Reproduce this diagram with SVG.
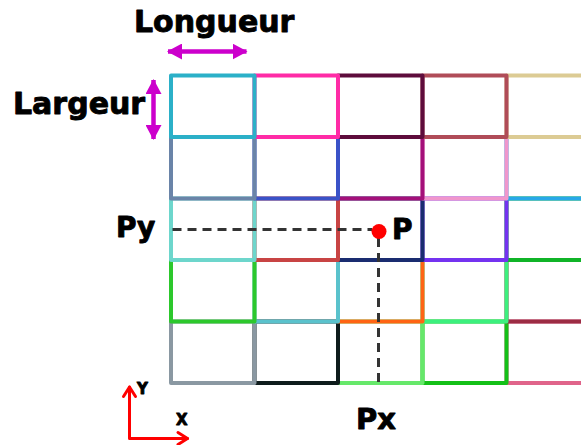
<svg xmlns="http://www.w3.org/2000/svg" width="581" height="445" viewBox="0 0 581 445">
<defs>
<style>
.cell{fill:none;stroke-width:4;stroke-linejoin:round}
.lbl{font-family:"DejaVu Sans","Liberation Sans",sans-serif;font-weight:bold;fill:#000;stroke:#000;stroke-width:0.9;stroke-linejoin:round}
.dash{stroke:#333;stroke-width:3;stroke-dasharray:9 6;fill:none}
.mag{stroke:#cc00cc;stroke-width:4.5;fill:none}
.axis{stroke:#ff0000;stroke-width:3;fill:none;stroke-linecap:round;stroke-linejoin:round}
</style>
<marker id="mh" viewBox="0 0 15 16" refX="14" refY="8" markerWidth="15" markerHeight="16" markerUnits="userSpaceOnUse" orient="auto-start-reverse">
<path d="M0,0 L15,8 L0,16 Z" fill="#cc00cc"/>
</marker>
</defs>
<rect width="581" height="445" fill="#fff"/>
<g id="grid">
<g id="cell-4-4"><rect class="cell" x="506.5" y="321.5" width="84" height="61.5" stroke="#e0648a"/></g>
<g id="cell-4-3"><rect class="cell" x="422.5" y="321.5" width="84" height="61.5" stroke="#14c018"/></g>
<g id="cell-4-2"><rect class="cell" x="338" y="321.5" width="84.5" height="61.5" stroke="#66e86a"/></g>
<g id="cell-4-1"><rect class="cell" x="254.5" y="321.5" width="83.5" height="61.5" stroke="#0e1c1c"/></g>
<g id="cell-4-0"><rect class="cell" x="171" y="321.5" width="83.5" height="61.5" stroke="#8a98a2"/></g>
<g id="cell-3-4"><rect class="cell" x="506.5" y="260" width="84" height="61.5" stroke="#9c2c44"/></g>
<g id="cell-3-3"><rect class="cell" x="422.5" y="260" width="84" height="61.5" stroke="#3cf07e"/></g>
<g id="cell-3-2"><rect class="cell" x="338" y="260" width="84.5" height="61.5" stroke="#ff6414"/></g>
<g id="cell-3-1"><rect class="cell" x="254.5" y="260" width="83.5" height="61.5" stroke="#5ac2cc"/></g>
<g id="cell-3-0"><rect class="cell" x="171" y="260" width="83.5" height="61.5" stroke="#2cc82c"/></g>
<g id="cell-2-4"><rect class="cell" x="506.5" y="198.5" width="84" height="61.5" stroke="#10b428"/></g>
<g id="cell-2-3"><rect class="cell" x="422.5" y="198.5" width="84" height="61.5" stroke="#7432f0"/></g>
<g id="cell-2-2"><rect class="cell" x="338" y="198.5" width="84.5" height="61.5" stroke="#1a2c70"/></g>
<g id="cell-2-1"><rect class="cell" x="254.5" y="198.5" width="83.5" height="61.5" stroke="#c84444"/></g>
<g id="cell-2-0"><rect class="cell" x="171" y="198.5" width="83.5" height="61.5" stroke="#6dd6cc"/></g>
<g id="cell-1-4"><rect class="cell" x="506.5" y="137" width="84" height="61.5" stroke="#28a8e8"/></g>
<g id="cell-1-3"><rect class="cell" x="422.5" y="137" width="84" height="61.5" stroke="#f096cc"/></g>
<g id="cell-1-2"><rect class="cell" x="338" y="137" width="84.5" height="61.5" stroke="#a4107a"/></g>
<g id="cell-1-1"><rect class="cell" x="254.5" y="137" width="83.5" height="61.5" stroke="#3a52c8"/></g>
<g id="cell-1-0"><rect class="cell" x="171" y="137" width="83.5" height="61.5" stroke="#6a84a8"/></g>
<g id="cell-0-4"><rect class="cell" x="506.5" y="75.5" width="84" height="61.5" stroke="#dccb94"/></g>
<g id="cell-0-3"><rect class="cell" x="422.5" y="75.5" width="84" height="61.5" stroke="#b04c58"/></g>
<g id="cell-0-2"><rect class="cell" x="338" y="75.5" width="84.5" height="61.5" stroke="#5e0c3c"/></g>
<g id="cell-0-1"><rect class="cell" x="254.5" y="75.5" width="83.5" height="61.5" stroke="#ff2ba6"/></g>
<g id="cell-0-0"><rect class="cell" x="171" y="75.5" width="83.5" height="61.5" stroke="#2bb0c8"/></g>
</g>
<g id="connectors">
<line class="dash" x1="172.5" y1="229.5" x2="372" y2="229.5"/>
<line class="dash" x1="378.5" y1="238" x2="378.5" y2="387"/>
<line class="mag" x1="168" y1="51.5" x2="246.5" y2="51.5" marker-start="url(#mh)" marker-end="url(#mh)"/>
<line class="mag" x1="153.5" y1="80" x2="153.5" y2="139" marker-start="url(#mh)" marker-end="url(#mh)"/>
<path class="axis" d="M129.5,387 V438.5 H187.5"/>
<path class="axis" d="M123.5,396.5 L129.5,387 L135.5,396.5"/>
<path class="axis" d="M178,432.5 L187.5,438.5 L178,444.5"/>
</g>
<g id="point-P"><circle cx="379" cy="231.5" r="7.5" fill="#ff0000"/></g>
<g id="labels">
<text class="lbl" x="134" y="32" font-size="30">Longueur</text>
<text class="lbl" x="13" y="114" font-size="30">Largeur</text>
<text class="lbl" x="116" y="237" font-size="28">Py</text>
<text class="lbl" x="392" y="238.5" font-size="28">P</text>
<text class="lbl" x="356" y="429" font-size="29">Px</text>
<text class="lbl" x="137" y="394" font-size="15">Y</text>
<text class="lbl" x="176" y="425" font-size="15">X</text>
</g>
</svg>
